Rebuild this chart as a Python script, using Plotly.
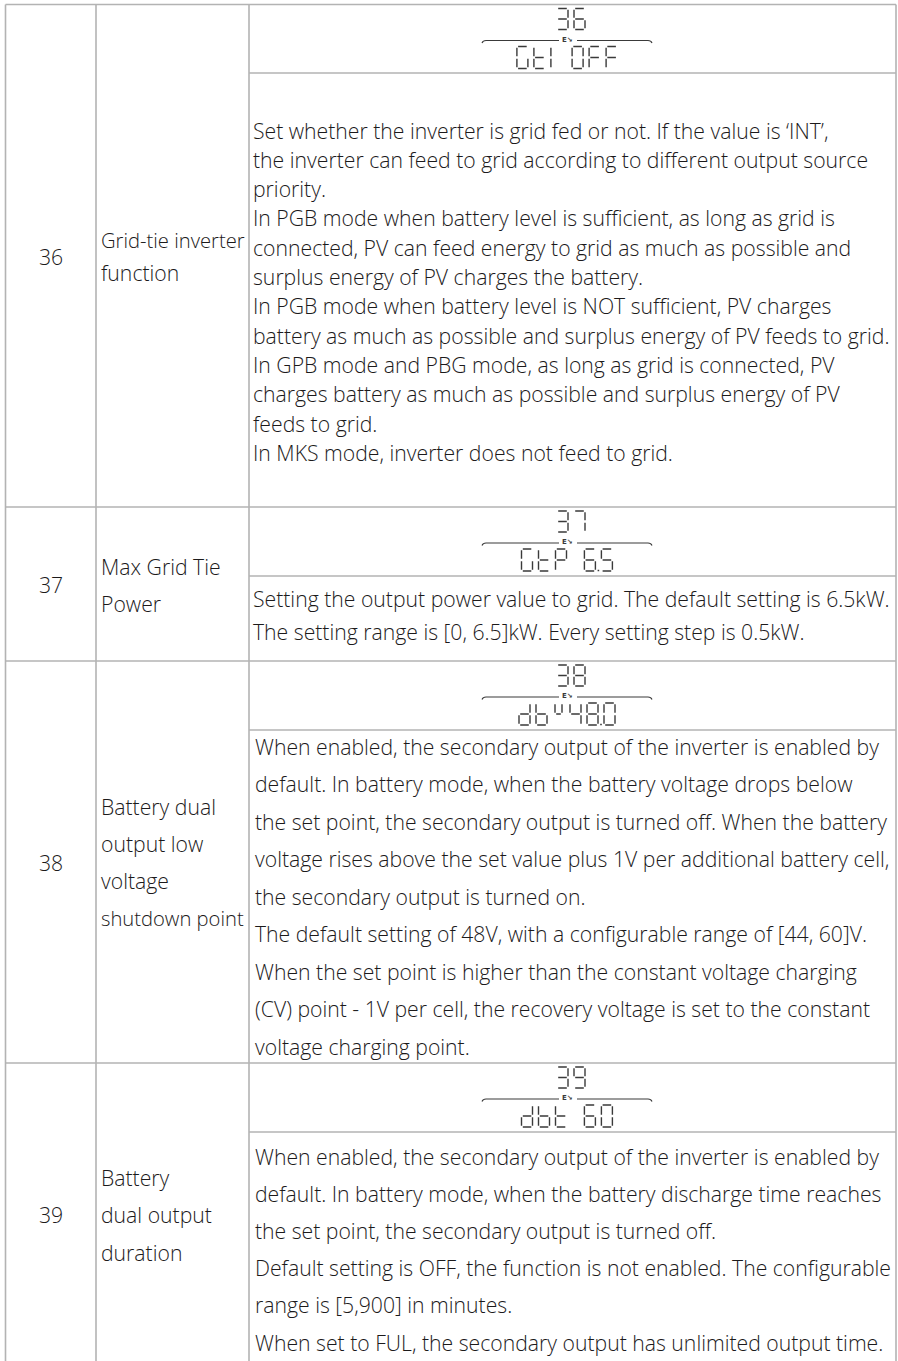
import plotly.graph_objects as go

# ---------------- data ----------------
row_ids = ["36", "37", "38", "39"]
param_names = [
    ["Grid-tie inverter", "function"],
    ["Max Grid Tie", "Power"],
    ["Battery dual", "output low", "voltage", "shutdown point"],
    ["Battery", "dual output", "duration"],
]
display_top = ["36", "37", "38", "39"]
display_bottom = ["GtI OFF", "GtP 6.5", "dbu48.0", "dbt 60"]   # 'u' = small raised u
descriptions = [
    [
        "Set whether the inverter is grid fed or not. If the value is \u2018INT\u2019,",
        "the inverter can feed to grid according to different output source",
        "priority.",
        "In PGB mode when battery level is sufficient, as long as grid is",
        "connected, PV can feed energy to grid as much as possible and",
        "surplus energy of PV charges the battery.",
        "In PGB mode when battery level is NOT sufficient, PV charges",
        "battery as much as possible and surplus energy of PV feeds to grid.",
        "In GPB mode and PBG mode, as long as grid is connected, PV",
        "charges battery as much as possible and surplus energy of PV",
        "feeds to grid.",
        "In MKS mode, inverter does not feed to grid.",
    ],
    [
        "Setting the output power value to grid. The default setting is 6.5kW.",
        "The setting range is [0, 6.5]kW. Every setting step is 0.5kW.",
    ],
    [
        "When enabled, the secondary output of the inverter is enabled by",
        "default. In battery mode, when the battery voltage drops below",
        "the set point, the secondary output is turned off. When the battery",
        "voltage rises above the set value plus 1V per additional battery cell,",
        "the secondary output is turned on.",
        "The default setting of 48V, with a configurable range of [44, 60]V.",
        "When the set point is higher than the constant voltage charging",
        "(CV) point - 1V per cell, the recovery voltage is set to the constant",
        "voltage charging point.",
    ],
    [
        "When enabled, the secondary output of the inverter is enabled by",
        "default. In battery mode, when the battery discharge time reaches",
        "the set point, the secondary output is turned off.",
        "Default setting is OFF, the function is not enabled. The configurable",
        "range is [5,900] in minutes.",
        "When set to FUL, the secondary output has unlimited output time.",
    ],
]

# ---------------- layout geometry ----------------
W, H = 898, 1361
col_x = [5.5, 96, 249, 896]
row_top = [4.5, 507, 661, 1063]
row_sub = [73, 576, 730, 1132]
table_bottom = H
id_y = [256, 584, 862, 1214]
name_y0 = [240, 566, 806, 1177]
name_step = [32, 37, 37.3, 37.5]
desc_x = [251, 251, 253, 253]
desc_y0 = [130, 598, 746, 1156]
desc_step = [29.3, 33, 37.5, 37.2]

LINE = "#b3b3b3"
TXT = "#1c1a1b"
LCD = "#3a3a3a"
FONT = dict(family="'Open Sans', 'Noto Sans', sans-serif", size=21.2, color=TXT, weight=300)
FONT_NAME_TIGHT = dict(FONT, size=20.2)

shapes = []
annotations = []

# table grid
for x in col_x:
    shapes.append(dict(type="line", x0=x, x1=x, y0=row_top[0], y1=table_bottom,
                       line=dict(color=LINE, width=1.6)))
for y in row_top:
    shapes.append(dict(type="line", x0=col_x[0], x1=col_x[-1], y0=y, y1=y,
                       line=dict(color=LINE, width=1.6)))
for y in row_sub:
    shapes.append(dict(type="line", x0=col_x[2], x1=col_x[-1], y0=y, y1=y,
                       line=dict(color=LINE, width=1.6)))

# seven-segment glyphs
SEG = {
    "0": "abcdef", "1": "bc", "2": "abged", "3": "abgcd", "4": "fgbc",
    "5": "afgcd", "6": "afgedc", "7": "abc", "8": "abcdefg", "9": "abcdfg",
    "G": "afedc", "t": "fedg", "I": "ef", "O": "abcdef", "F": "afge",
    "P": "abfge", "d": "bcdeg", "b": "fedcg", "u": "fbg", " ": "",
}
NARROW = {"I": 0.55, " ": 0.7}


def seg_path(ch, x0, y0, w, h, g=1.2):
    m = y0 + h / 2
    pts = {
        "a": ((x0 + g, y0), (x0 + w - g, y0)),
        "b": ((x0 + w, y0 + g), (x0 + w, m - g)),
        "c": ((x0 + w, m + g), (x0 + w, y0 + h - g)),
        "d": ((x0 + g, y0 + h), (x0 + w - g, y0 + h)),
        "e": ((x0, m + g), (x0, y0 + h - g)),
        "f": ((x0, y0 + g), (x0, m - g)),
        "g": ((x0 + g, m), (x0 + w - g, m)),
    }
    out = ""
    for s in SEG.get(ch, ""):
        (a, b), (c, d) = pts[s]
        out += f"M{a:.1f},{b:.1f} L{c:.1f},{d:.1f} "
    return out


def lcd_string(text, cx, y0, w, h, pitch):
    chars = [c for c in text if c != "."]
    total = sum(pitch * NARROW.get(c, 1.0) for c in chars[:-1]) + w
    x = cx - total / 2
    path = ""
    for ch in text:
        if ch == ".":
            px = x - (pitch - w) / 2
            path += f"M{px-0.8:.1f},{y0+h-0.5:.1f} L{px+0.8:.1f},{y0+h-0.5:.1f} "
            continue
        if ch == "u":
            path += seg_path(ch, x + 2, y0, w - 4, h)
        else:
            path += seg_path(ch, x, y0, w, h)
        x += pitch * NARROW.get(ch, 1.0)
    return path


for i in range(4):
    top = row_top[i]
    shapes.append(dict(type="path", path=lcd_string(display_top[i], 571, top + 4, 11, 21, 17),
                       line=dict(color=LCD, width=1.4)))
    ly = top + 36
    shapes.append(dict(type="path",
                       path=f"M482,{ly+2.5} Q483,{ly} 486,{ly} L559,{ly} M577,{ly} L648,{ly} Q651,{ly} 652,{ly+2.5}",
                       line=dict(color=LCD, width=1.1)))
    annotations.append(dict(x=567, y=ly - 1, xref="x", yref="y", text="<b>E\u2198</b>",
                            showarrow=False, font=dict(family="DejaVu Sans", size=7, color=LCD),
                            xanchor="center", yanchor="middle"))
    shapes.append(dict(type="path", path=lcd_string(display_bottom[i], 567, top + 42, 11, 22, 17),
                       line=dict(color=LCD, width=1.4)))

    annotations.append(dict(x=51, y=id_y[i], xref="x", yref="y", text=row_ids[i],
                            showarrow=False, font=FONT, xanchor="center", yanchor="middle"))
    for j, t in enumerate(param_names[i]):
        f = FONT_NAME_TIGHT if len(t) >= 14 else FONT
        annotations.append(dict(x=99, y=name_y0[i] + j * name_step[i], xref="x", yref="y",
                                text=t, showarrow=False, font=f,
                                xanchor="left", yanchor="middle"))
    for j, t in enumerate(descriptions[i]):
        annotations.append(dict(x=desc_x[i], y=desc_y0[i] + j * desc_step[i], xref="x", yref="y",
                                text=t, showarrow=False, font=FONT,
                                xanchor="left", yanchor="middle"))

fig = go.Figure()
fig.update_layout(
    width=W, height=H,
    margin=dict(l=0, r=0, t=0, b=0),
    paper_bgcolor="white", plot_bgcolor="white",
    xaxis=dict(range=[0, W], visible=False, fixedrange=True),
    yaxis=dict(range=[H, 0], visible=False, fixedrange=True),
    shapes=shapes, annotations=annotations, showlegend=False,
)
fig.write_html("out.html", config={"displayModeBar": False},
               post_script="document.body.style.margin='0';document.body.style.overflow='hidden';")
